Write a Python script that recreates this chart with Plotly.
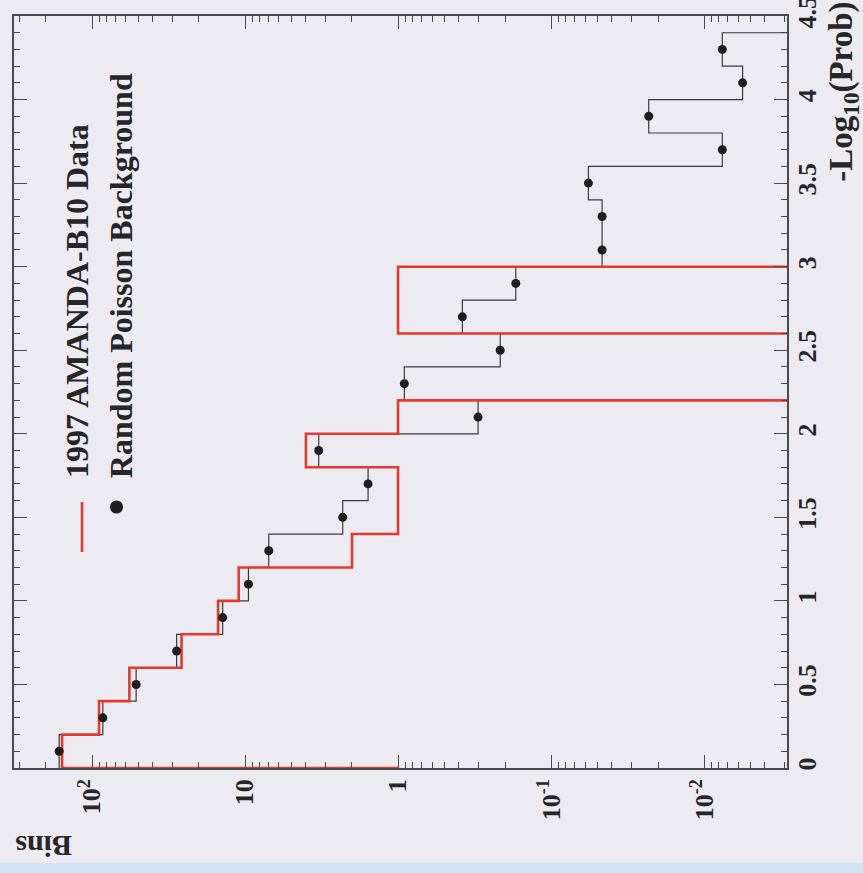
import numpy as np
import plotly.graph_objects as go

# ---------------- data ----------------
# -Log10(Prob) bin edges (width 0.2)
data_edges = [0.0, 0.2, 0.4, 0.6, 0.8, 1.0, 1.2, 1.4, 1.6, 1.8, 2.0, 2.2, 2.4, 2.6, 2.8, 3.0]
# 1997 AMANDA-B10 data (counts per bin)
data_counts = [157, 90, 57, 26, 15, 11, 2, 1, 1, 4, 1, 0, 0, 1, 1]
data_start = 1.0

bkg_edges = [round(0.2 * i, 1) for i in range(23)]  # 0.0 .. 4.4
bkg_centers = [round(0.1 + 0.2 * i, 1) for i in range(22)]
# Random Poisson background (expected bins)
bkg_counts = [164, 85, 51.5, 28, 14, 9.5, 7.0, 2.3, 1.57, 3.3, 0.30, 0.91,
              0.215, 0.38, 0.17, 0.0464, 0.0464, 0.057, 0.0076, 0.023, 0.0056, 0.0076]

x_tickvals = [100, 10, 1, 0.1, 0.01]
x_ticktext = ["10<sup>2</sup>", "10", "1", "10<sup>-1</sup>", "10<sup>-2</sup>"]
y_tickvals = [0, 0.5, 1, 1.5, 2, 2.5, 3, 3.5, 4, 4.5]
y_ticktext = ["0", "0.5", "1", "1.5", "2", "2.5", "3", "3.5", "4", "4.5"]

legend_labels = ["1997 AMANDA-B10 Data", "Random Poisson Background"]
x_title = "-Log<sub>10</sub>(Prob)"
y_title = "Bins"

# ---------------- helpers ----------------
FLOOR = 1e-5  # empty bins drawn down to the axis minimum (off-range -> clipped)


def step_path(edges, vals, start=None, end=FLOOR):
    v = [x if x > 0 else FLOOR for x in vals]
    xs, ys = [], []
    if start is not None:
        xs.append(start)
        ys.append(edges[0])
    for i, val in enumerate(v):
        xs += [val, val]
        ys += [edges[i], edges[i + 1]]
    xs.append(end)
    ys.append(edges[-1])
    return xs, ys


def b(s):
    return "<b>" + s + "</b>"


RED = "#e5392b"
INK = "#262626"
AXC = "#4a4a4a"
BG = "#ecebf1"
FONT = "Liberation Serif"

# plot area in pixels: x 14..787, y 16..768
PT, PB = 16, 768
PH = PB - PT


def py(pix):  # pixel row -> paper y
    return (PB - pix) / PH


fig = go.Figure()

bx, by = step_path(bkg_edges, bkg_counts)
fig.add_trace(go.Scatter(x=bx, y=by, mode="lines",
                         line=dict(color="#3a3a3a", width=1.2),
                         hoverinfo="skip", showlegend=False))

rx, ry = step_path(data_edges, data_counts, start=data_start)
fig.add_trace(go.Scatter(x=rx, y=ry, mode="lines",
                         line=dict(color=RED, width=2.6),
                         name=legend_labels[0], showlegend=False))

fig.add_trace(go.Scatter(x=bkg_counts, y=bkg_centers, mode="markers",
                         marker=dict(color="#1e1e1e", size=9),
                         name=legend_labels[1], showlegend=False))

# minor ticks on log axis
minor_log = [m * 10.0 ** d for d in range(-3, 3) for m in range(2, 10)]

fig.update_layout(
    width=863, height=873, autosize=False,
    margin=dict(l=14, r=76, t=PT, b=873 - PB),
    paper_bgcolor=BG, plot_bgcolor=BG,
    showlegend=False,
    font=dict(family=FONT, color=INK),
    xaxis=dict(
        type="log", range=[2.510, -2.542], automargin=False,
        tickmode="array", tickvals=x_tickvals, ticktext=[b(t) for t in x_ticktext],
        tickangle=-90, ticklabelstandoff=-1,
        tickfont=dict(family=FONT, size=26, color=INK),
        ticks="inside", ticklen=13, tickwidth=1.2, tickcolor=AXC,
        minor=dict(tickmode="array", tickvals=minor_log, ticks="inside",
                   ticklen=6, tickwidth=1.2, tickcolor=AXC, showgrid=False),
        showline=True, linecolor=AXC, linewidth=1.5, mirror="ticks",
        showgrid=False, zeroline=False,
    ),
    yaxis=dict(
        range=[0, 4.5001], side="right", automargin=False,
        tickmode="array", tickvals=y_tickvals, ticktext=[b(t) for t in y_ticktext],
        tickangle=-90, ticklabelstandoff=-4, ticklabeloverflow="allow",
        tickfont=dict(family=FONT, size=26, color=INK),
        ticks="inside", ticklen=13, tickwidth=1.2, tickcolor=AXC,
        minor=dict(dtick=0.1, ticks="inside", ticklen=6, tickwidth=1.2,
                   tickcolor=AXC, showgrid=False),
        showline=True, linecolor=AXC, linewidth=1.5, mirror="ticks",
        showgrid=False, zeroline=False,
    ),
)

# legend (drawn rotated like the reference)
fig.add_shape(type="line", xref="paper", yref="paper",
              x0=0.088, x1=0.088, y0=py(552), y1=py(502),
              line=dict(color=RED, width=2.6))
fig.add_shape(type="circle", xref="paper", yref="paper",
              x0=0.1326 - 0.0085, x1=0.1326 + 0.0085,
              y0=py(507) - 0.0087, y1=py(507) + 0.0087,
              fillcolor="#1e1e1e", line=dict(color="#1e1e1e", width=0))
fig.add_annotation(text=b(legend_labels[0]), textangle=-90, showarrow=False,
                   xref="paper", yref="paper", x=0.0815, y=py(480),
                   xanchor="center", yanchor="bottom",
                   font=dict(family=FONT, size=32, color=INK))
fig.add_annotation(text=b(legend_labels[1]), textangle=-90, showarrow=False,
                   xref="paper", yref="paper", x=0.138, y=py(480),
                   xanchor="center", yanchor="bottom",
                   font=dict(family=FONT, size=32, color=INK))

# axis titles
fig.add_annotation(text=b(x_title), textangle=-90, showarrow=False,
                   xref="paper", yref="paper", x=1.072, y=py(0),
                   xanchor="center", yanchor="top",
                   font=dict(family=FONT, size=33, color=INK))
fig.add_annotation(text=b(y_title), textangle=180, showarrow=False,
                   xref="paper", yref="paper", x=0.0375, y=py(847),
                   xanchor="center", yanchor="middle",
                   font=dict(family=FONT, size=30, color=INK))

# scan strip at the bottom
fig.add_shape(type="rect", xref="paper", yref="paper",
              x0=-0.05, x1=1.2, y0=py(880), y1=py(863),
              fillcolor="#d3e2f4", line=dict(width=0), layer="below")

fig.write_html(
    "out.html",
    config={"displayModeBar": False},
    post_script="document.body.style.margin='0';"
                "document.body.style.background='" + BG + "';",
)
